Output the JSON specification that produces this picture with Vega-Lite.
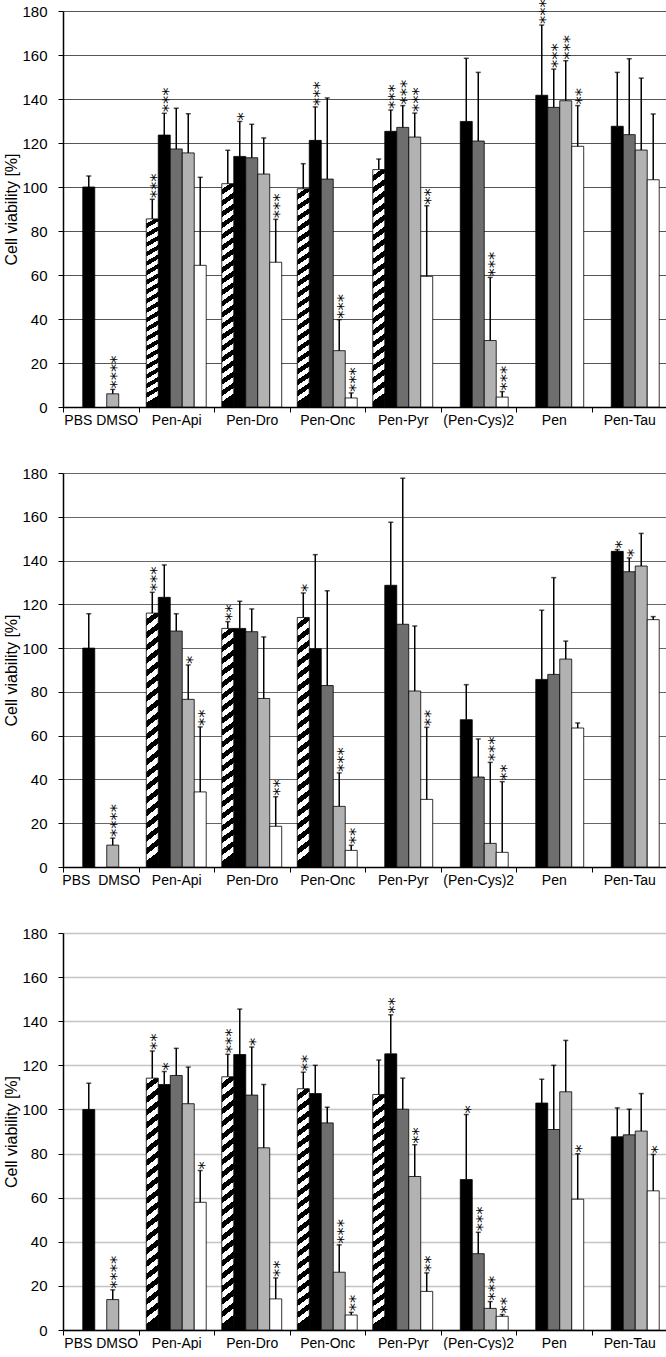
{
  "$schema": "https://vega.github.io/schema/vega-lite/v6.json",
  "padding": {"left": 3, "top": -1, "right": 0, "bottom": 0},
  "background": "#ffffff",
  "datasets": {
    "d": [
      {"p": 1, "g": "PBS DMSO", "s": "S2", "v": 100, "u": 105, "sig": ""},
      {"p": 1, "g": "PBS DMSO", "s": "S4", "v": 6, "u": 8, "sig": "****"},
      {"p": 1, "g": "Pen-Api", "s": "S1", "v": 85.5, "u": 94.4, "sig": "***"},
      {"p": 1, "g": "Pen-Api", "s": "S2", "v": 123.6, "u": 133.5, "sig": "***"},
      {"p": 1, "g": "Pen-Api", "s": "S3", "v": 117.3, "u": 135.8, "sig": ""},
      {"p": 1, "g": "Pen-Api", "s": "S4", "v": 115.5, "u": 133.3, "sig": ""},
      {"p": 1, "g": "Pen-Api", "s": "S5", "v": 64.4, "u": 104.4, "sig": ""},
      {"p": 1, "g": "Pen-Dro", "s": "S1", "v": 101.5, "u": 116.7, "sig": ""},
      {"p": 1, "g": "Pen-Dro", "s": "S2", "v": 113.9, "u": 129.8, "sig": "*"},
      {"p": 1, "g": "Pen-Dro", "s": "S3", "v": 113.3, "u": 128.5, "sig": ""},
      {"p": 1, "g": "Pen-Dro", "s": "S4", "v": 105.9, "u": 122.3, "sig": ""},
      {"p": 1, "g": "Pen-Dro", "s": "S5", "v": 65.8, "u": 85.3, "sig": "***"},
      {"p": 1, "g": "Pen-Onc", "s": "S1", "v": 99.2, "u": 110.6, "sig": ""},
      {"p": 1, "g": "Pen-Onc", "s": "S2", "v": 121.2, "u": 136.4, "sig": "***"},
      {"p": 1, "g": "Pen-Onc", "s": "S3", "v": 103.6, "u": 140.5, "sig": ""},
      {"p": 1, "g": "Pen-Onc", "s": "S4", "v": 25.6, "u": 39.7, "sig": "***"},
      {"p": 1, "g": "Pen-Onc", "s": "S5", "v": 4.1, "u": 6.4, "sig": "***"},
      {"p": 1, "g": "Pen-Pyr", "s": "S1", "v": 107.9, "u": 112.7, "sig": ""},
      {"p": 1, "g": "Pen-Pyr", "s": "S2", "v": 125.3, "u": 135, "sig": "***"},
      {"p": 1, "g": "Pen-Pyr", "s": "S3", "v": 127.1, "u": 137, "sig": "***"},
      {"p": 1, "g": "Pen-Pyr", "s": "S4", "v": 122.7, "u": 133.6, "sig": "***"},
      {"p": 1, "g": "Pen-Pyr", "s": "S5", "v": 59.4, "u": 91.5, "sig": "**"},
      {"p": 1, "g": "(Pen-Cys)2", "s": "S2", "v": 129.8, "u": 158.5, "sig": ""},
      {"p": 1, "g": "(Pen-Cys)2", "s": "S3", "v": 120.9, "u": 152.1, "sig": ""},
      {"p": 1, "g": "(Pen-Cys)2", "s": "S4", "v": 30.2, "u": 58.9, "sig": "***"},
      {"p": 1, "g": "(Pen-Cys)2", "s": "S5", "v": 4.5, "u": 7, "sig": "***"},
      {"p": 1, "g": "Pen", "s": "S2", "v": 141.7, "u": 173.6, "sig": "***"},
      {"p": 1, "g": "Pen", "s": "S3", "v": 136.2, "u": 153.6, "sig": "***"},
      {"p": 1, "g": "Pen", "s": "S4", "v": 139.2, "u": 157.4, "sig": "***"},
      {"p": 1, "g": "Pen", "s": "S5", "v": 118.5, "u": 137, "sig": "**"},
      {"p": 1, "g": "Pen-Tau", "s": "S2", "v": 127.6, "u": 152.1, "sig": ""},
      {"p": 1, "g": "Pen-Tau", "s": "S3", "v": 123.8, "u": 158.3, "sig": ""},
      {"p": 1, "g": "Pen-Tau", "s": "S4", "v": 116.8, "u": 149.5, "sig": ""},
      {"p": 1, "g": "Pen-Tau", "s": "S5", "v": 103.3, "u": 133.2, "sig": ""},

      {"p": 2, "g": "PBS DMSO", "s": "S2", "v": 100, "u": 115.7, "sig": ""},
      {"p": 2, "g": "PBS DMSO", "s": "S4", "v": 10, "u": 13.2, "sig": "****"},
      {"p": 2, "g": "Pen-Api", "s": "S1", "v": 116, "u": 125.5, "sig": "***"},
      {"p": 2, "g": "Pen-Api", "s": "S2", "v": 123.2, "u": 138, "sig": ""},
      {"p": 2, "g": "Pen-Api", "s": "S3", "v": 107.8, "u": 115.7, "sig": ""},
      {"p": 2, "g": "Pen-Api", "s": "S4", "v": 76.6, "u": 92.3, "sig": "*"},
      {"p": 2, "g": "Pen-Api", "s": "S5", "v": 34.3, "u": 64, "sig": "**"},
      {"p": 2, "g": "Pen-Dro", "s": "S1", "v": 109, "u": 112.1, "sig": "**"},
      {"p": 2, "g": "Pen-Dro", "s": "S2", "v": 109, "u": 121.4, "sig": ""},
      {"p": 2, "g": "Pen-Dro", "s": "S3", "v": 107.5, "u": 117.9, "sig": ""},
      {"p": 2, "g": "Pen-Dro", "s": "S4", "v": 77, "u": 105.1, "sig": ""},
      {"p": 2, "g": "Pen-Dro", "s": "S5", "v": 18.6, "u": 32.1, "sig": "**"},
      {"p": 2, "g": "Pen-Onc", "s": "S1", "v": 114, "u": 125.2, "sig": "*"},
      {"p": 2, "g": "Pen-Onc", "s": "S2", "v": 99.7, "u": 142.7, "sig": ""},
      {"p": 2, "g": "Pen-Onc", "s": "S3", "v": 82.9, "u": 126.2, "sig": ""},
      {"p": 2, "g": "Pen-Onc", "s": "S4", "v": 27.7, "u": 43, "sig": "***"},
      {"p": 2, "g": "Pen-Onc", "s": "S5", "v": 7.6, "u": 9.9, "sig": "**"},
      {"p": 2, "g": "Pen-Pyr", "s": "S2", "v": 128.7, "u": 157.5, "sig": ""},
      {"p": 2, "g": "Pen-Pyr", "s": "S3", "v": 110.9, "u": 177.6, "sig": ""},
      {"p": 2, "g": "Pen-Pyr", "s": "S4", "v": 80.4, "u": 110.1, "sig": ""},
      {"p": 2, "g": "Pen-Pyr", "s": "S5", "v": 30.9, "u": 63.8, "sig": "**"},
      {"p": 2, "g": "(Pen-Cys)2", "s": "S2", "v": 67.3, "u": 83.3, "sig": ""},
      {"p": 2, "g": "(Pen-Cys)2", "s": "S3", "v": 41.1, "u": 58.5, "sig": ""},
      {"p": 2, "g": "(Pen-Cys)2", "s": "S4", "v": 10.8, "u": 47.8, "sig": "***"},
      {"p": 2, "g": "(Pen-Cys)2", "s": "S5", "v": 6.7, "u": 39, "sig": "**"},
      {"p": 2, "g": "Pen", "s": "S2", "v": 85.7, "u": 117.3, "sig": ""},
      {"p": 2, "g": "Pen", "s": "S3", "v": 88, "u": 132.2, "sig": ""},
      {"p": 2, "g": "Pen", "s": "S4", "v": 95, "u": 103.2, "sig": ""},
      {"p": 2, "g": "Pen", "s": "S5", "v": 63.5, "u": 65.8, "sig": ""},
      {"p": 2, "g": "Pen-Tau", "s": "S2", "v": 144.2, "u": 145, "sig": "*"},
      {"p": 2, "g": "Pen-Tau", "s": "S3", "v": 134.9, "u": 141.2, "sig": "*"},
      {"p": 2, "g": "Pen-Tau", "s": "S4", "v": 137.5, "u": 152.4, "sig": ""},
      {"p": 2, "g": "Pen-Tau", "s": "S5", "v": 113, "u": 114.4, "sig": ""},

      {"p": 3, "g": "PBS DMSO", "s": "S2", "v": 100, "u": 111.9, "sig": ""},
      {"p": 3, "g": "PBS DMSO", "s": "S4", "v": 13.8, "u": 18.2, "sig": "****"},
      {"p": 3, "g": "Pen-Api", "s": "S1", "v": 114.2, "u": 126.5, "sig": "**"},
      {"p": 3, "g": "Pen-Api", "s": "S2", "v": 111.3, "u": 117.2, "sig": "*"},
      {"p": 3, "g": "Pen-Api", "s": "S3", "v": 115.4, "u": 127.7, "sig": ""},
      {"p": 3, "g": "Pen-Api", "s": "S4", "v": 102.6, "u": 119.2, "sig": ""},
      {"p": 3, "g": "Pen-Api", "s": "S5", "v": 57.9, "u": 72.3, "sig": "*"},
      {"p": 3, "g": "Pen-Dro", "s": "S1", "v": 114.8, "u": 125, "sig": "***"},
      {"p": 3, "g": "Pen-Dro", "s": "S2", "v": 124.9, "u": 145.5, "sig": ""},
      {"p": 3, "g": "Pen-Dro", "s": "S3", "v": 106.5, "u": 128.3, "sig": "*"},
      {"p": 3, "g": "Pen-Dro", "s": "S4", "v": 82.6, "u": 111.3, "sig": ""},
      {"p": 3, "g": "Pen-Dro", "s": "S5", "v": 14.1, "u": 23.6, "sig": "**"},
      {"p": 3, "g": "Pen-Onc", "s": "S1", "v": 109.4, "u": 116.9, "sig": "**"},
      {"p": 3, "g": "Pen-Onc", "s": "S2", "v": 107.2, "u": 120, "sig": ""},
      {"p": 3, "g": "Pen-Onc", "s": "S3", "v": 93.9, "u": 101, "sig": ""},
      {"p": 3, "g": "Pen-Onc", "s": "S4", "v": 26.2, "u": 38.6, "sig": "***"},
      {"p": 3, "g": "Pen-Onc", "s": "S5", "v": 6.8, "u": 8, "sig": "**"},
      {"p": 3, "g": "Pen-Pyr", "s": "S1", "v": 106.8, "u": 122.4, "sig": ""},
      {"p": 3, "g": "Pen-Pyr", "s": "S2", "v": 125.2, "u": 142.9, "sig": "**"},
      {"p": 3, "g": "Pen-Pyr", "s": "S3", "v": 100.1, "u": 114.2, "sig": ""},
      {"p": 3, "g": "Pen-Pyr", "s": "S4", "v": 69.6, "u": 84, "sig": "**"},
      {"p": 3, "g": "Pen-Pyr", "s": "S5", "v": 17.5, "u": 25.9, "sig": "**"},
      {"p": 3, "g": "(Pen-Cys)2", "s": "S2", "v": 68.2, "u": 97.7, "sig": "*"},
      {"p": 3, "g": "(Pen-Cys)2", "s": "S3", "v": 34.6, "u": 44.3, "sig": "***"},
      {"p": 3, "g": "(Pen-Cys)2", "s": "S4", "v": 9.8, "u": 12.9, "sig": "***"},
      {"p": 3, "g": "(Pen-Cys)2", "s": "S5", "v": 6.2, "u": 7, "sig": "**"},
      {"p": 3, "g": "Pen", "s": "S2", "v": 102.9, "u": 113.7, "sig": ""},
      {"p": 3, "g": "Pen", "s": "S3", "v": 90.9, "u": 120, "sig": ""},
      {"p": 3, "g": "Pen", "s": "S4", "v": 108, "u": 131.3, "sig": ""},
      {"p": 3, "g": "Pen", "s": "S5", "v": 59.3, "u": 79.9, "sig": "*"},
      {"p": 3, "g": "Pen-Tau", "s": "S2", "v": 87.6, "u": 100.7, "sig": ""},
      {"p": 3, "g": "Pen-Tau", "s": "S3", "v": 88.5, "u": 100.1, "sig": ""},
      {"p": 3, "g": "Pen-Tau", "s": "S4", "v": 90.2, "u": 107.2, "sig": ""},
      {"p": 3, "g": "Pen-Tau", "s": "S5", "v": 63.1, "u": 79.6, "sig": "*"}
    ]
  },
  "data": {"name": "d"},
  "spacing": 66,
  "bounds": "flush",
  "vconcat": [
    {
      "width": 604, "height": 396,
      "transform": [{"filter": "datum.p == 1"}],
      "encoding": {
        "x": {"field": "g", "type": "nominal", "sort": null,
          "scale": {"domain": ["PBS DMSO","Pen-Api","Pen-Dro","Pen-Onc","Pen-Pyr","(Pen-Cys)2","Pen","Pen-Tau"], "paddingInner": 0, "paddingOuter": 0},
          "axis": {"title": null, "labelAngle": 0, "tickBand": "extent", "tickSize": 5, "domainWidth": 1.5, "labelPadding": 1, "labelOverlap": false, "grid": false}},
        "xOffset": {"field": "s", "type": "nominal", "scale": {"domain": ["S1","S2","S3","S4","S5"], "paddingInner": 0, "paddingOuter": 0.65}}
      },
      "layer": [
        {"transform": [{"filter": "datum.s != 'S1'"}],
         "mark": {"type": "bar", "stroke": "#000", "strokeWidth": 0.8},
         "encoding": {
           "y": {"field": "v", "type": "quantitative", "scale": {"domain": [0, 180], "nice": false},
             "axis": {"title": "Cell viability [%]", "values": [0,20,40,60,80,100,120,140,160,180], "grid": true, "gridColor": "#555555", "gridWidth": 1.2, "domainWidth": 1.5, "tickSize": 5, "labelPadding": 11, "labelFontSize": 15, "titleFontSize": 16, "titlePadding": 2}},
           "fill": {"field": "s", "type": "nominal", "scale": {"domain": ["S2","S3","S4","S5"], "range": ["#000000","#6e6e6e","#b2b2b2","#ffffff"]}, "legend": null}}},
        {"transform": [{"filter": "datum.s == 'S1'"}],
         "mark": {"type": "bar", "stroke": "#000", "strokeWidth": 0.8,
           "fill": {"gradient": "linear", "x1": 0, "y1": 0, "x2": 0.037, "y2": 1, "stops": [
             {"offset":0,"color":"#fff"},{"offset":0.025,"color":"#fff"},{"offset":0.025,"color":"#000"},{"offset":0.05,"color":"#000"},
             {"offset":0.05,"color":"#fff"},{"offset":0.075,"color":"#fff"},{"offset":0.075,"color":"#000"},{"offset":0.1,"color":"#000"},
             {"offset":0.1,"color":"#fff"},{"offset":0.125,"color":"#fff"},{"offset":0.125,"color":"#000"},{"offset":0.15,"color":"#000"},
             {"offset":0.15,"color":"#fff"},{"offset":0.175,"color":"#fff"},{"offset":0.175,"color":"#000"},{"offset":0.2,"color":"#000"},
             {"offset":0.2,"color":"#fff"},{"offset":0.225,"color":"#fff"},{"offset":0.225,"color":"#000"},{"offset":0.25,"color":"#000"},
             {"offset":0.25,"color":"#fff"},{"offset":0.275,"color":"#fff"},{"offset":0.275,"color":"#000"},{"offset":0.3,"color":"#000"},
             {"offset":0.3,"color":"#fff"},{"offset":0.325,"color":"#fff"},{"offset":0.325,"color":"#000"},{"offset":0.35,"color":"#000"},
             {"offset":0.35,"color":"#fff"},{"offset":0.375,"color":"#fff"},{"offset":0.375,"color":"#000"},{"offset":0.4,"color":"#000"},
             {"offset":0.4,"color":"#fff"},{"offset":0.425,"color":"#fff"},{"offset":0.425,"color":"#000"},{"offset":0.45,"color":"#000"},
             {"offset":0.45,"color":"#fff"},{"offset":0.475,"color":"#fff"},{"offset":0.475,"color":"#000"},{"offset":0.5,"color":"#000"},
             {"offset":0.5,"color":"#fff"},{"offset":0.525,"color":"#fff"},{"offset":0.525,"color":"#000"},{"offset":0.55,"color":"#000"},
             {"offset":0.55,"color":"#fff"},{"offset":0.575,"color":"#fff"},{"offset":0.575,"color":"#000"},{"offset":0.6,"color":"#000"},
             {"offset":0.6,"color":"#fff"},{"offset":0.625,"color":"#fff"},{"offset":0.625,"color":"#000"},{"offset":0.65,"color":"#000"},
             {"offset":0.65,"color":"#fff"},{"offset":0.675,"color":"#fff"},{"offset":0.675,"color":"#000"},{"offset":0.7,"color":"#000"},
             {"offset":0.7,"color":"#fff"},{"offset":0.725,"color":"#fff"},{"offset":0.725,"color":"#000"},{"offset":0.75,"color":"#000"},
             {"offset":0.75,"color":"#fff"},{"offset":0.775,"color":"#fff"},{"offset":0.775,"color":"#000"},{"offset":0.8,"color":"#000"},
             {"offset":0.8,"color":"#fff"},{"offset":0.825,"color":"#fff"},{"offset":0.825,"color":"#000"},{"offset":0.85,"color":"#000"},
             {"offset":0.85,"color":"#fff"},{"offset":0.875,"color":"#fff"},{"offset":0.875,"color":"#000"},{"offset":0.9,"color":"#000"},
             {"offset":0.9,"color":"#fff"},{"offset":0.925,"color":"#fff"},{"offset":0.925,"color":"#000"},{"offset":0.95,"color":"#000"},
             {"offset":0.95,"color":"#fff"},{"offset":0.975,"color":"#fff"},{"offset":0.975,"color":"#000"},{"offset":1,"color":"#000"}]}},
         "encoding": {"y": {"field": "v", "type": "quantitative"}}},
        {"mark": {"type": "rule", "color": "#000", "strokeWidth": 1.5},
         "encoding": {"y": {"field": "v", "type": "quantitative"}, "y2": {"field": "u"}}},
        {"mark": {"type": "tick", "orient": "horizontal", "color": "#000", "size": 5, "thickness": 1.5},
         "encoding": {"y": {"field": "u", "type": "quantitative"}}},
        {"transform": [{"filter": "datum.sig != ''"}],
         "mark": {"type": "text", "angle": 270, "align": "left", "baseline": "alphabetic", "font": "DejaVu Sans", "fontSize": 16.5, "dx": 1, "dy": 9.3, "color": "#000"},
         "encoding": {"y": {"field": "u", "type": "quantitative"}, "text": {"field": "sig"}}}
      ]
    },
    {
      "width": 604, "height": 394,
      "transform": [{"filter": "datum.p == 2"}],
      "encoding": {
        "x": {"field": "g", "type": "nominal", "sort": null,
          "scale": {"domain": ["PBS DMSO","Pen-Api","Pen-Dro","Pen-Onc","Pen-Pyr","(Pen-Cys)2","Pen","Pen-Tau"], "paddingInner": 0, "paddingOuter": 0},
          "axis": {"title": null, "labelAngle": 0, "tickBand": "extent", "tickSize": 5, "domainWidth": 1.5, "labelPadding": 1, "labelOverlap": false, "grid": false,
            "labelExpr": "datum.value == 'PBS DMSO' ? 'PBS\u00a0\u00a0DMSO' : datum.value"}},
        "xOffset": {"field": "s", "type": "nominal", "scale": {"domain": ["S1","S2","S3","S4","S5"], "paddingInner": 0, "paddingOuter": 0.65}}
      },
      "layer": [
        {"transform": [{"filter": "datum.s != 'S1'"}],
         "mark": {"type": "bar", "stroke": "#000", "strokeWidth": 0.8},
         "encoding": {
           "y": {"field": "v", "type": "quantitative", "scale": {"domain": [0, 180], "nice": false},
             "axis": {"title": "Cell viability [%]", "values": [0,20,40,60,80,100,120,140,160,180], "grid": true, "gridColor": "#666666", "gridWidth": 1.2, "domainWidth": 1.5, "tickSize": 5, "labelPadding": 11, "labelFontSize": 15, "titleFontSize": 16, "titlePadding": 2}},
           "fill": {"field": "s", "type": "nominal", "scale": {"domain": ["S2","S3","S4","S5"], "range": ["#000000","#6e6e6e","#b2b2b2","#ffffff"]}, "legend": null}}},
        {"transform": [{"filter": "datum.s == 'S1'"}],
         "mark": {"type": "bar", "stroke": "#000", "strokeWidth": 0.8,
           "fill": {"gradient": "linear", "x1": 0, "y1": 0, "x2": 0.037, "y2": 1, "stops": [
             {"offset":0,"color":"#fff"},{"offset":0.025,"color":"#fff"},{"offset":0.025,"color":"#000"},{"offset":0.05,"color":"#000"},
             {"offset":0.05,"color":"#fff"},{"offset":0.075,"color":"#fff"},{"offset":0.075,"color":"#000"},{"offset":0.1,"color":"#000"},
             {"offset":0.1,"color":"#fff"},{"offset":0.125,"color":"#fff"},{"offset":0.125,"color":"#000"},{"offset":0.15,"color":"#000"},
             {"offset":0.15,"color":"#fff"},{"offset":0.175,"color":"#fff"},{"offset":0.175,"color":"#000"},{"offset":0.2,"color":"#000"},
             {"offset":0.2,"color":"#fff"},{"offset":0.225,"color":"#fff"},{"offset":0.225,"color":"#000"},{"offset":0.25,"color":"#000"},
             {"offset":0.25,"color":"#fff"},{"offset":0.275,"color":"#fff"},{"offset":0.275,"color":"#000"},{"offset":0.3,"color":"#000"},
             {"offset":0.3,"color":"#fff"},{"offset":0.325,"color":"#fff"},{"offset":0.325,"color":"#000"},{"offset":0.35,"color":"#000"},
             {"offset":0.35,"color":"#fff"},{"offset":0.375,"color":"#fff"},{"offset":0.375,"color":"#000"},{"offset":0.4,"color":"#000"},
             {"offset":0.4,"color":"#fff"},{"offset":0.425,"color":"#fff"},{"offset":0.425,"color":"#000"},{"offset":0.45,"color":"#000"},
             {"offset":0.45,"color":"#fff"},{"offset":0.475,"color":"#fff"},{"offset":0.475,"color":"#000"},{"offset":0.5,"color":"#000"},
             {"offset":0.5,"color":"#fff"},{"offset":0.525,"color":"#fff"},{"offset":0.525,"color":"#000"},{"offset":0.55,"color":"#000"},
             {"offset":0.55,"color":"#fff"},{"offset":0.575,"color":"#fff"},{"offset":0.575,"color":"#000"},{"offset":0.6,"color":"#000"},
             {"offset":0.6,"color":"#fff"},{"offset":0.625,"color":"#fff"},{"offset":0.625,"color":"#000"},{"offset":0.65,"color":"#000"},
             {"offset":0.65,"color":"#fff"},{"offset":0.675,"color":"#fff"},{"offset":0.675,"color":"#000"},{"offset":0.7,"color":"#000"},
             {"offset":0.7,"color":"#fff"},{"offset":0.725,"color":"#fff"},{"offset":0.725,"color":"#000"},{"offset":0.75,"color":"#000"},
             {"offset":0.75,"color":"#fff"},{"offset":0.775,"color":"#fff"},{"offset":0.775,"color":"#000"},{"offset":0.8,"color":"#000"},
             {"offset":0.8,"color":"#fff"},{"offset":0.825,"color":"#fff"},{"offset":0.825,"color":"#000"},{"offset":0.85,"color":"#000"},
             {"offset":0.85,"color":"#fff"},{"offset":0.875,"color":"#fff"},{"offset":0.875,"color":"#000"},{"offset":0.9,"color":"#000"},
             {"offset":0.9,"color":"#fff"},{"offset":0.925,"color":"#fff"},{"offset":0.925,"color":"#000"},{"offset":0.95,"color":"#000"},
             {"offset":0.95,"color":"#fff"},{"offset":0.975,"color":"#fff"},{"offset":0.975,"color":"#000"},{"offset":1,"color":"#000"}]}},
         "encoding": {"y": {"field": "v", "type": "quantitative"}}},
        {"mark": {"type": "rule", "color": "#000", "strokeWidth": 1.5},
         "encoding": {"y": {"field": "v", "type": "quantitative"}, "y2": {"field": "u"}}},
        {"mark": {"type": "tick", "orient": "horizontal", "color": "#000", "size": 5, "thickness": 1.5},
         "encoding": {"y": {"field": "u", "type": "quantitative"}}},
        {"transform": [{"filter": "datum.sig != ''"}],
         "mark": {"type": "text", "angle": 270, "align": "left", "baseline": "alphabetic", "font": "DejaVu Sans", "fontSize": 16.5, "dx": 1, "dy": 9.3, "color": "#000"},
         "encoding": {"y": {"field": "u", "type": "quantitative"}, "text": {"field": "sig"}}}
      ]
    },
    {
      "width": 604, "height": 397,
      "transform": [{"filter": "datum.p == 3"}],
      "encoding": {
        "x": {"field": "g", "type": "nominal", "sort": null,
          "scale": {"domain": ["PBS DMSO","Pen-Api","Pen-Dro","Pen-Onc","Pen-Pyr","(Pen-Cys)2","Pen","Pen-Tau"], "paddingInner": 0, "paddingOuter": 0},
          "axis": {"title": null, "labelAngle": 0, "tickBand": "extent", "tickSize": 5, "domainWidth": 1.5, "labelPadding": 1, "labelOverlap": false, "grid": false}},
        "xOffset": {"field": "s", "type": "nominal", "scale": {"domain": ["S1","S2","S3","S4","S5"], "paddingInner": 0, "paddingOuter": 0.65}}
      },
      "layer": [
        {"transform": [{"filter": "datum.s != 'S1'"}],
         "mark": {"type": "bar", "stroke": "#000", "strokeWidth": 0.8},
         "encoding": {
           "y": {"field": "v", "type": "quantitative", "scale": {"domain": [0, 180], "nice": false},
             "axis": {"title": "Cell viability [%]", "values": [0,20,40,60,80,100,120,140,160,180], "grid": true, "gridColor": "#c4c4c4", "gridWidth": 1.3, "domainWidth": 1.5, "tickSize": 5, "labelPadding": 11, "labelFontSize": 15, "titleFontSize": 16, "titlePadding": 2}},
           "fill": {"field": "s", "type": "nominal", "scale": {"domain": ["S2","S3","S4","S5"], "range": ["#000000","#6e6e6e","#b2b2b2","#ffffff"]}, "legend": null}}},
        {"transform": [{"filter": "datum.s == 'S1'"}],
         "mark": {"type": "bar", "stroke": "#000", "strokeWidth": 0.8,
           "fill": {"gradient": "linear", "x1": 0, "y1": 0, "x2": 0.037, "y2": 1, "stops": [
             {"offset":0,"color":"#fff"},{"offset":0.025,"color":"#fff"},{"offset":0.025,"color":"#000"},{"offset":0.05,"color":"#000"},
             {"offset":0.05,"color":"#fff"},{"offset":0.075,"color":"#fff"},{"offset":0.075,"color":"#000"},{"offset":0.1,"color":"#000"},
             {"offset":0.1,"color":"#fff"},{"offset":0.125,"color":"#fff"},{"offset":0.125,"color":"#000"},{"offset":0.15,"color":"#000"},
             {"offset":0.15,"color":"#fff"},{"offset":0.175,"color":"#fff"},{"offset":0.175,"color":"#000"},{"offset":0.2,"color":"#000"},
             {"offset":0.2,"color":"#fff"},{"offset":0.225,"color":"#fff"},{"offset":0.225,"color":"#000"},{"offset":0.25,"color":"#000"},
             {"offset":0.25,"color":"#fff"},{"offset":0.275,"color":"#fff"},{"offset":0.275,"color":"#000"},{"offset":0.3,"color":"#000"},
             {"offset":0.3,"color":"#fff"},{"offset":0.325,"color":"#fff"},{"offset":0.325,"color":"#000"},{"offset":0.35,"color":"#000"},
             {"offset":0.35,"color":"#fff"},{"offset":0.375,"color":"#fff"},{"offset":0.375,"color":"#000"},{"offset":0.4,"color":"#000"},
             {"offset":0.4,"color":"#fff"},{"offset":0.425,"color":"#fff"},{"offset":0.425,"color":"#000"},{"offset":0.45,"color":"#000"},
             {"offset":0.45,"color":"#fff"},{"offset":0.475,"color":"#fff"},{"offset":0.475,"color":"#000"},{"offset":0.5,"color":"#000"},
             {"offset":0.5,"color":"#fff"},{"offset":0.525,"color":"#fff"},{"offset":0.525,"color":"#000"},{"offset":0.55,"color":"#000"},
             {"offset":0.55,"color":"#fff"},{"offset":0.575,"color":"#fff"},{"offset":0.575,"color":"#000"},{"offset":0.6,"color":"#000"},
             {"offset":0.6,"color":"#fff"},{"offset":0.625,"color":"#fff"},{"offset":0.625,"color":"#000"},{"offset":0.65,"color":"#000"},
             {"offset":0.65,"color":"#fff"},{"offset":0.675,"color":"#fff"},{"offset":0.675,"color":"#000"},{"offset":0.7,"color":"#000"},
             {"offset":0.7,"color":"#fff"},{"offset":0.725,"color":"#fff"},{"offset":0.725,"color":"#000"},{"offset":0.75,"color":"#000"},
             {"offset":0.75,"color":"#fff"},{"offset":0.775,"color":"#fff"},{"offset":0.775,"color":"#000"},{"offset":0.8,"color":"#000"},
             {"offset":0.8,"color":"#fff"},{"offset":0.825,"color":"#fff"},{"offset":0.825,"color":"#000"},{"offset":0.85,"color":"#000"},
             {"offset":0.85,"color":"#fff"},{"offset":0.875,"color":"#fff"},{"offset":0.875,"color":"#000"},{"offset":0.9,"color":"#000"},
             {"offset":0.9,"color":"#fff"},{"offset":0.925,"color":"#fff"},{"offset":0.925,"color":"#000"},{"offset":0.95,"color":"#000"},
             {"offset":0.95,"color":"#fff"},{"offset":0.975,"color":"#fff"},{"offset":0.975,"color":"#000"},{"offset":1,"color":"#000"}]}},
         "encoding": {"y": {"field": "v", "type": "quantitative"}}},
        {"mark": {"type": "rule", "color": "#000", "strokeWidth": 1.5},
         "encoding": {"y": {"field": "v", "type": "quantitative"}, "y2": {"field": "u"}}},
        {"mark": {"type": "tick", "orient": "horizontal", "color": "#000", "size": 5, "thickness": 1.5},
         "encoding": {"y": {"field": "u", "type": "quantitative"}}},
        {"transform": [{"filter": "datum.sig != ''"}],
         "mark": {"type": "text", "angle": 270, "align": "left", "baseline": "alphabetic", "font": "DejaVu Sans", "fontSize": 16.5, "dx": 1, "dy": 9.3, "color": "#000"},
         "encoding": {"y": {"field": "u", "type": "quantitative"}, "text": {"field": "sig"}}}
      ]
    }
  ],
  "config": {
    "view": {"stroke": null},
    "font": "Liberation Sans",
    "axis": {"labelFont": "Liberation Sans", "labelFontSize": 14, "labelColor": "#000", "titleFont": "Liberation Sans", "titleFontSize": 14, "titleFontWeight": "normal", "titleColor": "#000", "domainColor": "#000", "tickColor": "#000"}
  }
}
